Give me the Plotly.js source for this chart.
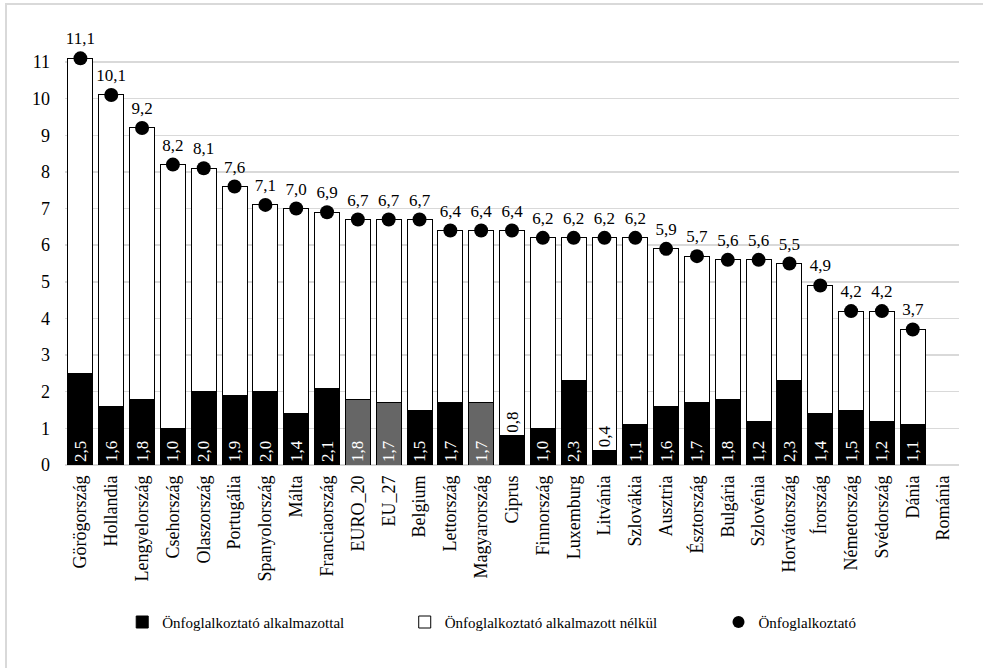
<!DOCTYPE html>
<html>
<head>
<meta charset="utf-8">
<script src="https://cdn.plot.ly/plotly-3.0.1.min.js"></script>
<style>
html,body{margin:0;padding:0;background:#fff;overflow:hidden;}
#frame{position:absolute;left:5px;top:3px;width:1000px;height:700px;border-top:2px solid #d9d9d9;border-left:2px solid #d9d9d9;}
#chart{position:absolute;left:0;top:0;width:983px;height:668px;}
</style>
</head>
<body>
<div id="frame"></div>
<div id="chart"></div>
<script>
const countries = ["Görögország","Hollandia","Lengyelország","Csehország","Olaszország","Portugália","Spanyolország","Málta","Franciaország","EURO_20","EU_27","Belgium","Lettország","Magyarország","Ciprus","Finnország","Luxemburg","Litvánia","Szlovákia","Ausztria","Észtország","Bulgária","Szlovénia","Horvátország","Írország","Németország","Svédország","Dánia","Románia"];
const withEmployees = [2.5,1.6,1.8,1.0,2.0,1.9,2.0,1.4,2.1,1.8,1.7,1.5,1.7,1.7,0.8,1.0,2.3,0.4,1.1,1.6,1.7,1.8,1.2,2.3,1.4,1.5,1.2,1.1,null];
const withoutEmployees = [8.6,8.5,7.4,7.2,6.1,5.7,5.1,5.6,4.8,4.9,5.0,5.2,4.7,4.7,5.6,5.2,3.9,5.8,5.1,4.3,4.0,3.8,4.4,3.2,3.5,2.7,3.0,2.6,null];
const selfEmployed = [11.1,10.1,9.2,8.2,8.1,7.6,7.1,7.0,6.9,6.7,6.7,6.7,6.4,6.4,6.4,6.2,6.2,6.2,6.2,5.9,5.7,5.6,5.6,5.5,4.9,4.2,4.2,3.7,null];
const highlighted = ["EURO_20","EU_27","Magyarország"];
const smallBars = ["Ciprus","Litvánia"];

const fmt = v => (v === null ? "" : v.toFixed(1).replace(".", ","));
const font = "'Liberation Serif', 'DejaVu Serif', serif";

const bottomColors = countries.map(c => highlighted.includes(c) ? "#666666" : "#000000");
const bottomText = countries.map((c,i) => smallBars.includes(c) ? "" : fmt(withEmployees[i]));
const topText = countries.map((c,i) => smallBars.includes(c) ? fmt(withEmployees[i]) : "");

const traces = [
  {
    type: "bar", name: "Önfoglalkoztató alkalmazottal", legend: "legend",
    x: countries, y: withEmployees,
    marker: {color: bottomColors, line: {color: "#000000", width: 1}},
    text: bottomText, textposition: "inside", insidetextanchor: "start",
    textangle: -90, textfont: {family: font, size: 17, color: "#ffffff"},
    constraintext: "none", hoverinfo: "skip"
  },
  {
    type: "bar", name: "Önfoglalkoztató alkalmazott nélkül", legend: "legend2",
    x: countries, y: withoutEmployees,
    marker: {color: "#ffffff", line: {color: "#000000", width: 1}},
    text: topText, textposition: "inside", insidetextanchor: "start",
    textangle: -90, textfont: {family: font, size: 17, color: "#000000"},
    constraintext: "none", hoverinfo: "skip"
  },
  {
    type: "scatter", mode: "markers+text", name: "Önfoglalkoztató", legend: "legend3",
    x: countries, y: selfEmployed,
    marker: {color: "#000000", size: 14},
    text: selfEmployed.map(fmt), textposition: "top center",
    textfont: {family: font, size: 17, color: "#000000"},
    cliponaxis: false, hoverinfo: "skip"
  }
];

const legendBase = {
  orientation: "h", xanchor: "left", y: -0.34, yanchor: "top",
  font: {family: font, size: 15, color: "#000000"}, itemwidth: 30,
  bgcolor: "rgba(0,0,0,0)"
};

const layout = {
  width: 983, height: 668,
  paper_bgcolor: "rgba(0,0,0,0)", plot_bgcolor: "rgba(0,0,0,0)",
  margin: {l: 65, r: 24, t: 51, b: 203},
  barmode: "stack", bargap: 0.19,
  separators: ", ",
  font: {family: font, size: 16, color: "#000000"},
  showlegend: true,
  legend: Object.assign({}, legendBase, {x: 0.064}),
  legend2: Object.assign({}, legendBase, {x: 0.380}),
  legend3: Object.assign({}, legendBase, {x: 0.731, itemsizing: "constant"}),
  xaxis: {
    type: "category", range: [-0.5, 28.5], tickangle: -90, showgrid: false, ticks: "",
    showline: false, tickfont: {family: font, size: 18, color: "#000000"},
    ticklabelstandoff: 6, automargin: false
  },
  yaxis: {
    range: [0, 11.3], dtick: 1, tick0: 0, showgrid: true,
    gridcolor: "#d9d9d9", gridwidth: 1.5, zeroline: true, zerolinecolor: "#d9d9d9",
    zerolinewidth: 1.5, showline: false, ticks: "",
    ticklabelstandoff: 14,
    tickfont: {family: font, size: 18, color: "#000000"}, automargin: false
  }
};

Plotly.newPlot("chart", traces, layout, {displayModeBar: false, staticPlot: true});
</script>
</body>
</html>
